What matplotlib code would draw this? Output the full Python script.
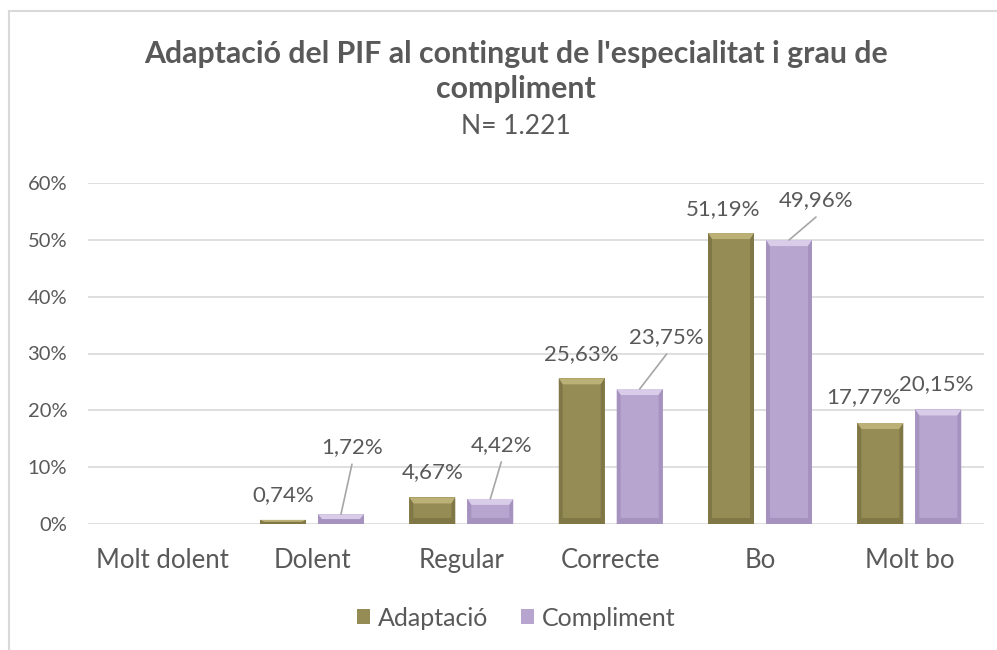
import numpy as np
import matplotlib.pyplot as plt
from matplotlib.patches import Polygon
from matplotlib.lines import Line2D

# Data
categories = ['Molt dolent', 'Dolent', 'Regular', 'Correcte', 'Bo', 'Molt bo']
adaptacio = [0.0, 0.74, 4.67, 25.63, 51.19, 17.77]
compliment = [0.0, 1.72, 4.42, 23.75, 49.96, 20.15]
series_names = ['Adaptació', 'Compliment']

# Colours
olive = '#958B55'
olive_light = '#C8BE83'
olive_dark = '#7A7142'
lilac = '#B7A5CF'
lilac_light = '#E4DAF1'
lilac_dark = '#9F8CB9'
text_col = '#595959'
grid_col = '#D9D9D9'

plt.rcParams['font.family'] = ['Lato', 'DejaVu Sans']

fig = plt.figure(figsize=(9.97, 6.5), dpi=100)
ax = fig.add_axes([88 / 997, 1 - 524 / 650, 896 / 997, (524 - 183) / 650])

x = np.arange(len(categories))
w = 0.308
off = 0.194
b1 = ax.bar(x - off, adaptacio, w, color=olive, label=series_names[0], zorder=3)
b2 = ax.bar(x + off, compliment, w, color=lilac, label=series_names[1], zorder=3)

ax.set_xlim(-0.5, len(categories) - 0.5)
ax.set_ylim(0, 60)
ax.set_yticks(np.arange(0, 61, 10))
ax.set_yticklabels([f'{v}%' for v in range(0, 61, 10)])
ax.set_xticks(x)
ax.set_xticklabels(categories)
ax.tick_params(axis='both', length=0, colors=text_col)
ax.tick_params(axis='y', pad=15, labelsize=14.5)
ax.tick_params(axis='x', pad=17, labelsize=18.5)
ax.grid(axis='y', color=grid_col, linewidth=1.2, zorder=0)
for s in ax.spines.values():
    s.set_visible(False)


# bevel look on the bars (pixel geometry taken from the drawn bars)
def bevel(bars, light, dark):
    fig.canvas.draw()
    inv = ax.transData.inverted()
    for r in bars:
        if r.get_height() <= 0:
            continue
        (x0, y0), (x1, y1) = ax.transData.transform(
            [(r.get_x(), 0), (r.get_x() + r.get_width(), r.get_height())])
        d = min(6, (y1 - y0) / 2)
        s = 4
        pieces = [
            ([(x0, y1), (x1, y1), (x1 - s, y1 - d), (x0 + s, y1 - d)], light),
            ([(x0, y0), (x1, y0), (x1 - s, y0 + d), (x0 + s, y0 + d)], dark),
            ([(x0, y0), (x0, y1), (x0 + s, y1 - d), (x0 + s, y0 + d)], dark),
            ([(x1, y0), (x1, y1), (x1 - s, y1 - d), (x1 - s, y0 + d)], dark),
        ]
        for pts, c in pieces:
            ax.add_patch(Polygon(inv.transform(pts), closed=True, color=c,
                                 lw=0, zorder=4, alpha=0.75))


bevel(b1, olive_light, olive_dark)
bevel(b2, lilac_light, lilac_dark)


def fmt(v):
    return f'{v:.2f}'.replace('.', ',') + '%'


# label offsets in pixels (dx, dy) from bar top centre
off_a = [None, (0, 25), (0, 25), (0, 24), (-8, 24), (-17, 26)]
off_c = [None, (11, 67), (11, 54), (27, 52), (27, 40), (-2, 25)]
lead_c = [False, True, True, True, True, False]

for i in range(len(categories)):
    if off_a[i] is not None:
        ax.annotate(fmt(adaptacio[i]), (x[i] - off, adaptacio[i]),
                    xytext=off_a[i], textcoords='offset pixels',
                    ha='center', va='center', fontsize=16, color=text_col)
    if off_c[i] is not None:
        ax.annotate(fmt(compliment[i]), (x[i] + off, compliment[i]),
                    xytext=off_c[i], textcoords='offset pixels',
                    ha='center', va='center', fontsize=16, color=text_col)
        if lead_c[i]:
            dx, dy = off_c[i]
            ax.annotate('', (x[i] + off, compliment[i]),
                        xytext=(dx, dy - 17), textcoords='offset pixels',
                        arrowprops=dict(arrowstyle='-', color='#A6A6A6', lw=1.2,
                                        shrinkA=0, shrinkB=0), zorder=5)

# Titles
fig.text(516 / 997, 1 - 63 / 650,
         "Adaptació del PIF al contingut de l'especialitat i grau de",
         ha='center', va='baseline', fontsize=21.8, fontweight='bold',
         color=text_col)
fig.text(516 / 997, 1 - 98 / 650, 'compliment',
         ha='center', va='baseline', fontsize=21.8, fontweight='bold',
         color=text_col)
fig.text(516 / 997, 1 - 134 / 650, 'N= 1.221', ha='center', va='baseline',
         fontsize=19, color=text_col)

# Legend
leg = fig.legend(handles=[b1, b2], loc='center', ncol=2,
                 bbox_to_anchor=(516 / 997, 1 - 618 / 650), frameon=False,
                 fontsize=18, handlelength=0.55, handleheight=0.55,
                 handletextpad=0.3, columnspacing=1.3)
for t in leg.get_texts():
    t.set_color(text_col)

# Chart border
fig.add_artist(Line2D([8.5 / 997, 8.5 / 997], [0, 1 - 11 / 650],
                      color=grid_col, lw=1.5))
fig.add_artist(Line2D([8.5 / 997, 1], [1 - 11 / 650, 1 - 11 / 650],
                      color=grid_col, lw=1.5))

fig.savefig('out.png', dpi=100)
